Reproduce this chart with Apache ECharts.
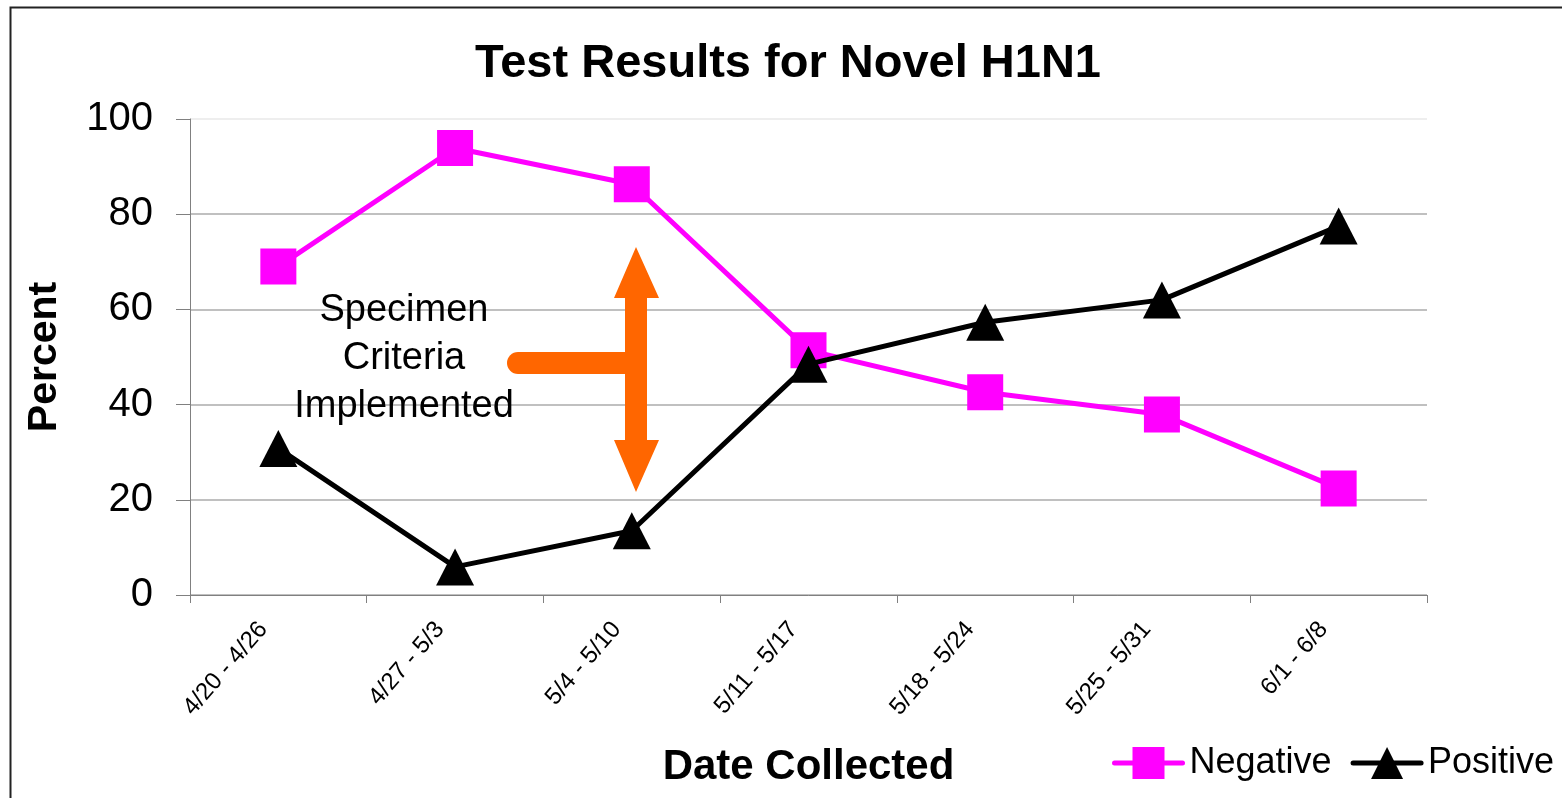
<!DOCTYPE html>
<html>
<head>
<meta charset="utf-8">
<script src="https://cdn.jsdelivr.net/npm/echarts@6/dist/echarts.min.js"></script>
<style>
html,body{margin:0;padding:0;background:#fff;}
#chart{width:1562px;height:798px;}
</style>
</head>
<body>
<div id="chart"></div>
<script>
const categories = ['4/20 - 4/26','4/27 - 5/3','5/4 - 5/10','5/11 - 5/17','5/18 - 5/24','5/25 - 5/31','6/1 - 6/8'];
const negative = [69.0, 93.9, 86.3, 51.4, 42.6, 37.9, 22.4];
const positive = [30.8, 5.9, 13.5, 48.5, 57.3, 62.0, 77.5];
const yTicks = [0, 20, 40, 60, 80, 100];
const titleText = 'Test Results for Novel H1N1';
const annotationLines = ['Specimen', 'Criteria', 'Implemented'];

const FONT = "'Liberation Sans', Arial, sans-serif";
const chart = echarts.init(document.getElementById('chart'), null, {renderer: 'canvas'});

chart.setOption({
  backgroundColor: '#ffffff',
  animation: false,
  title: {
    text: titleText,
    left: 475, top: 41, padding: 0,
    textStyle: {fontFamily: FONT, fontSize: 47, fontWeight: 'bold', color: '#000'}
  },
  legend: {
    left: 1112, top: 745,
    itemWidth: 68, itemHeight: 40, itemGap: 19, padding: 0,
    lineStyle: {width: 5, cap: 'round'},
    textStyle: {fontFamily: FONT, fontSize: 36, color: '#000', padding: [0,0,0,2]},
    data: ['Negative', 'Positive']
  },
  grid: {left: 190, right: 135, top: 119, bottom: 203, containLabel: false},
  xAxis: {
    type: 'category',
    data: categories,
    boundaryGap: true,
    name: 'Date Collected',
    nameLocation: 'middle',
    nameGap: 151,
    nameTextStyle: {fontFamily: FONT, fontSize: 42, fontWeight: 'bold', color: '#000'},
    axisLine: {show: true, lineStyle: {color: '#808080', width: 1}},
    axisTick: {show: true, length: 8, alignWithLabel: false, lineStyle: {color: '#808080'}},
    axisLabel: {rotate: 49, margin: 13, padding: [0, 23, 0, 0], fontFamily: FONT, fontSize: 24, color: '#000', interval: 0},
    splitLine: {show: false}
  },
  yAxis: {
    type: 'value',
    min: 0, max: 100, interval: 20,
    name: 'Percent',
    nameLocation: 'middle',
    nameGap: 125,
    nameRotate: 90,
    nameTextStyle: {fontFamily: FONT, fontSize: 41, fontWeight: 'bold', color: '#000'},
    axisLine: {show: true, lineStyle: {color: '#808080', width: 1}},
    axisTick: {show: true, length: 14, inside: false, lineStyle: {color: '#808080'}},
    axisLabel: {margin: 37, fontFamily: FONT, fontSize: 40, color: '#000',
      formatter: function (v) { return yTicks.indexOf(v) >= 0 ? String(v) : ''; }},
    splitLine: {show: true, lineStyle: {color: ['#c0c0c0','#c0c0c0','#c0c0c0','#c0c0c0','#c0c0c0','#eeeeee'], width: 2}}
  },
  graphic: [
    {
      type: 'rect', silent: true, z: 100,
      shape: {x: 10.5, y: 7.5, width: 1700, height: 900},
      style: {fill: 'none', stroke: '#222', lineWidth: 2}
    },
    {
      type: 'text', silent: true, z: 1,
      x: 404, y: 359,
      style: {
        text: annotationLines.join('\n'),
        fontFamily: FONT, fontSize: 38, fill: '#000',
        textAlign: 'center', textVerticalAlign: 'middle', lineHeight: 48
      }
    },
    {
      type: 'line', silent: true, z: 1,
      shape: {x1: 518, y1: 363, x2: 632, y2: 363},
      style: {stroke: '#ff6600', lineWidth: 22, lineCap: 'round'}
    },
    {
      type: 'polygon', silent: true, z: 1,
      shape: {points: [[636,247],[659,298],[647,298],[647,440],[659,440],[636,492],[614,440],[625,440],[625,298],[614,298]]},
      style: {fill: '#ff6600'}
    }
  ],
  series: [
    {
      name: 'Negative', type: 'line', data: negative,
      symbol: 'rect', symbolSize: 36,
      lineStyle: {color: '#ff00ff', width: 5, cap: 'round'},
      itemStyle: {color: '#ff00ff'},
      z: 3
    },
    {
      name: 'Positive', type: 'line', data: positive,
      symbol: 'triangle', symbolSize: [38, 37],
      lineStyle: {color: '#000000', width: 5, cap: 'round'},
      itemStyle: {color: '#000000'},
      z: 4
    }
  ]
});
</script>
</body>
</html>
